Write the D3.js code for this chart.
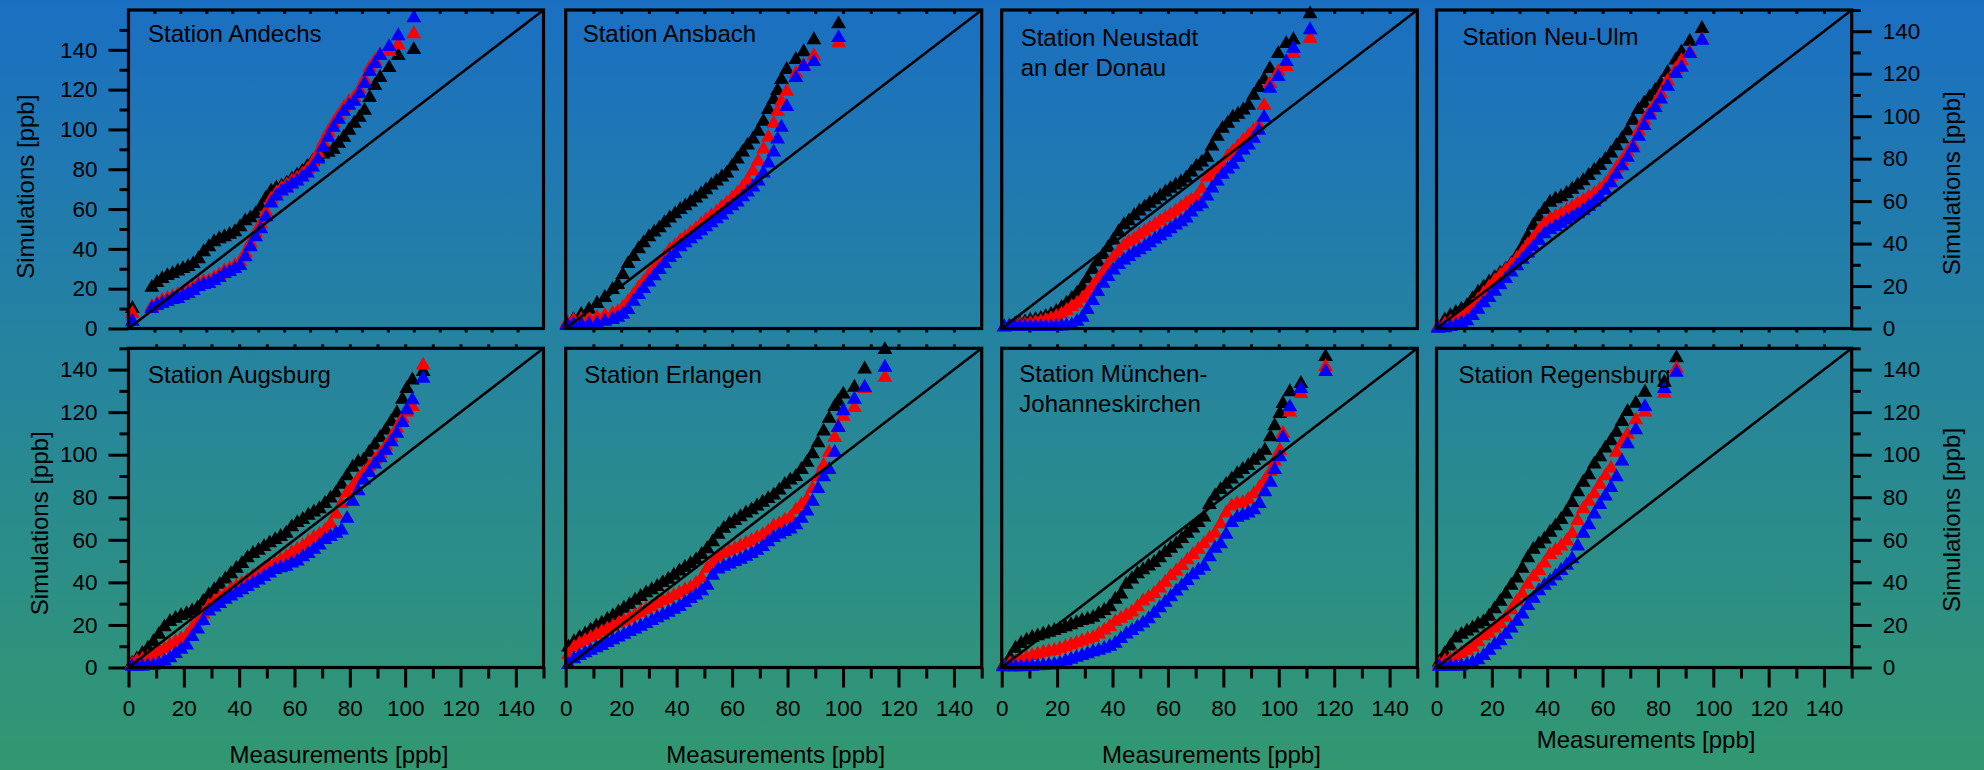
<!DOCTYPE html>
<html><head><meta charset="utf-8">
<script src="https://cdn.jsdelivr.net/npm/d3@7"></script>
<style>
html,body{margin:0;padding:0;background:#2585a0;}
svg{display:block;}
text{font-family:"Liberation Sans",Arial,Helvetica,sans-serif;fill:#000;}
</style></head><body>
<svg id="chart" width="1984" height="770"></svg>
<script>
// ---------------- DATA (quantile pairs) ----------------
const stationNames = [
  ["Station Andechs"], ["Station Ansbach"], ["Station Neustadt", "an der Donau"], ["Station Neu-Ulm"],
  ["Station Augsburg"], ["Station Erlangen"], ["Station München-", "Johanneskirchen"], ["Station Regensburg"]
];
const seriesNames = ["Simulation A", "Simulation B", "Simulation C"];
const axisMax = [160, 150, 150, 150, 150, 150, 150, 150];
const yTickLabels = [0, 20, 40, 60, 80, 100, 120, 140];
const xTickLabels = [0, 20, 40, 60, 80, 100, 120, 140];
const xTitle = "Measurements [ppb]";
const yTitle = "Simulations [ppb]";

// Andechs
const andechsMeas = [1.5, 9, 11, 13, 15, 17, 19, 21, 23, 25, 27, 29, 31, 33, 35, 37, 39, 41, 43, 45, 47, 49, 51, 53, 55, 57, 59, 61, 63, 65, 67, 69, 71, 73, 75, 77, 79, 81, 83, 85, 87, 89, 91, 93, 95, 97, 100.5, 104, 110];
const andechsBlack = [10, 20.6, 23, 25, 26.5, 27.5, 28.8, 30, 31, 32.5, 35, 38.5, 41, 43.5, 45, 46, 47.2, 48.5, 51, 54, 55.5, 57.5, 61, 65.5, 69, 70.5, 71.5, 73, 75, 77, 79, 81.5, 84, 86, 87.5, 88.5, 90, 93, 96, 99.5, 103, 106, 109.5, 116, 122, 126, 131, 137, 140];
const andechsRed = [7.5, 11, 12.5, 14, 15, 16, 17, 18, 19, 20.5, 22.5, 23.5, 24, 25.5, 27, 29, 30, 31.5, 33.5, 38, 43, 48, 52.5, 58.5, 65, 68, 70.5, 72, 74, 75.5, 77.5, 80, 83.5, 88, 93.5, 98.5, 103, 107, 111, 114, 116, 120, 125, 131, 134.5, 137.5, 139, 142.5, 148];
const andechsBlue = [3.5, 10, 11.5, 12.5, 13.5, 14.5, 15, 16.5, 17.5, 19, 21, 22, 22.5, 24, 25.5, 27.5, 28.5, 30, 31.5, 36, 41, 46, 50, 56, 63, 66.5, 69, 70.5, 72.5, 74, 76, 78, 81, 85, 91, 96, 101, 105, 109, 112, 114, 118, 123, 129, 133, 137, 141.5, 147, 156];

// Ansbach
const ansbachMeas = [0.5, 2.8, 5.6, 8.4, 11.3, 14.1, 16.9, 18.8, 20.6, 22.5, 24.4, 26.3, 28.1, 30, 31.9, 33.8, 35.6, 37.5, 39.4, 41.3, 43.1, 45, 46.9, 48.8, 50.6, 52.5, 54.4, 56.3, 58.1, 60, 61.9, 63.8, 65.6, 67.5, 69.4, 71.3, 73.1, 75, 76.4, 77.8, 79.7, 83, 85.8, 89.5, 98.4];
const ansbachBlack = [1.4, 4.2, 6.6, 8.9, 11.7, 14.5, 18.3, 20.6, 25.3, 30.5, 33.8, 37.5, 40.3, 43.1, 45.3, 47.3, 49.7, 52, 53.9, 56, 57.7, 59.5, 61.4, 63.3, 65.2, 67.5, 69.4, 71.3, 73.1, 76.4, 79.7, 83, 86.3, 89.1, 92.8, 97.5, 103.1, 107.8, 112, 117.2, 121.9, 126.6, 130.3, 135.9, 143.4];
const ansbachRed = [2.8, 3.8, 4.2, 4.7, 5.2, 6.1, 7, 8, 9.8, 12.7, 15.9, 19.2, 22, 25.3, 28.1, 30.9, 33.8, 37, 38.9, 41.3, 43.1, 45, 46.9, 49.2, 51.1, 53, 54.8, 57.2, 59.1, 61.4, 63.8, 66.6, 69.8, 74.1, 78.8, 84.4, 90, 96.6, 102.2, 106.9, 111.6, 120, 123.8, 128.4, 134.5];
const ansbachBlue = [1.9, 1.9, 1.9, 1.9, 2.3, 3.3, 4.2, 5.2, 6.6, 8.9, 12.7, 15.9, 18.8, 21.8, 24.8, 27.7, 30.5, 33.3, 35.2, 38.4, 40.3, 42.2, 44.1, 45.9, 47.8, 49.7, 51.6, 53.4, 55.8, 57.7, 59.5, 61.9, 64.2, 66.6, 69.4, 73.1, 77.8, 83, 89.1, 94.7, 104.5, 118.1, 123.3, 125.6, 136.9];

// Neustadt an der Donau
const neustadtMeas = [0.9, 2.8, 4.7, 6.6, 8.4, 10.3, 12.2, 14.1, 15.9, 17.8, 19.7, 21.6, 23.4, 25.3, 27.2, 29.1, 30.9, 32.8, 34.7, 36.6, 38.4, 40.3, 42.2, 44.1, 45.9, 47.8, 49.7, 51.6, 53.4, 55.3, 57.2, 59.1, 60.9, 62.8, 64.7, 66.6, 68.4, 70.3, 72.2, 74.1, 75.9, 77.8, 79.7, 81.6, 83.4, 85.3, 87.2, 89.1, 90.9, 92.8, 94.7, 96.8, 99.8, 102.7, 105.3, 111.3];
const neustadtBlack = [0.5, 1.1, 1.7, 2.3, 3, 3.8, 4.2, 4.7, 5.6, 6.6, 8, 9.8, 11.8, 14.1, 16.6, 19.7, 23.4, 27.7, 31.4, 34.7, 38, 41.6, 45.5, 48.8, 50.6, 53, 55.3, 57.2, 58.9, 60.5, 62.3, 64.2, 65.9, 67.5, 68.9, 70.8, 73.6, 76.4, 78.3, 80.6, 85.8, 90.5, 94.2, 96.6, 99.4, 100.8, 102.8, 105, 109.7, 113.4, 117.2, 122.3, 129.4, 134.1, 135.9, 148.1];
const neustadtRed = [0.5, 0.9, 1.4, 1.7, 1.9, 2.3, 2.8, 3.3, 3.8, 4.7, 5.6, 6.8, 8.4, 10.3, 11.8, 14.1, 16.5, 19.7, 23, 26.3, 30, 33.3, 36.1, 38.9, 40.8, 42.2, 44.1, 45.7, 47.3, 48.9, 50.6, 52.2, 53.7, 55.3, 57.2, 58.9, 60.5, 61.9, 65.6, 71.3, 73.1, 75, 76.9, 81.1, 83.4, 85.8, 88.6, 90.9, 93.3, 95.6, 105, 115.3, 120.9, 123.3, 129.4, 136.6];
const neustadtBlue = [0.8, 0.8, 0.8, 0.8, 0.8, 0.8, 0.8, 0.8, 0.8, 0.8, 0.9, 1.1, 1.3, 1.6, 3.3, 5.2, 8.9, 13.1, 17.3, 21.2, 24.4, 27.5, 30, 32.2, 33.8, 35.6, 37, 38.7, 40.3, 42, 43.6, 45.2, 46.9, 48.6, 50.2, 52, 54.8, 57.2, 58.6, 62.3, 66.1, 69.4, 72.5, 75, 77.3, 80.6, 84, 86.3, 89.5, 93.3, 99.4, 113.1, 118.6, 125.6, 131.9, 140.6];

// Neu-Ulm
const neuulmMeas = [0.6, 3, 5, 7, 9, 11, 13, 15, 17, 19, 21, 23, 25, 27, 29, 31, 33, 35, 37, 39, 41, 43, 45, 47, 49, 51, 53, 55, 57, 59, 61, 63, 65, 67, 69, 71, 73, 75, 77, 79, 81, 83.5, 86.4, 88.5, 91.5, 95.9];
const neuulmBlack = [0.5, 4, 6, 7.5, 9, 10.7, 14, 17, 19.5, 21.8, 24, 26, 28, 30.5, 34, 38.5, 43.5, 48.5, 52.5, 56, 59.4, 61, 62, 63.5, 65.5, 67.5, 69.5, 72, 74.5, 76.7, 79.5, 82.5, 86, 89.3, 93, 98, 103, 106, 109, 112, 115.3, 120.5, 126.3, 130.2, 135.2, 141.2];
const neuulmRed = [0.5, 2, 3, 4.2, 6, 7.5, 10.5, 13.5, 16.5, 19.5, 22.5, 25, 27.5, 30, 33, 36, 39.5, 42.5, 46, 49.3, 51.3, 52.7, 54, 55.5, 57.2, 58.8, 60.3, 62, 63.5, 65.5, 68, 71.5, 75.5, 79, 83, 86.5, 93, 98, 102, 106, 110.5, 116.5, 122, 126, 130, 136];
const neuulmBlue = [0, 0.3, 0.8, 1.5, 2.5, 3.5, 6, 9, 12, 14.5, 17.5, 20.5, 23.5, 26.5, 29.5, 32.5, 35.5, 38.5, 41.5, 44.5, 46.5, 48, 49.5, 51, 52.5, 54, 55.5, 57.5, 59.5, 62, 65, 68.5, 72.5, 76.5, 80.5, 85, 90.5, 95.5, 100.5, 104, 108, 114, 120, 123, 129.4, 135.7];

// Augsburg
const augsburgMeas = [1.3, 3, 5, 7, 9, 11, 13, 15, 17, 19, 21, 23, 25, 27, 29, 31, 33, 35, 37, 39, 41, 43, 45, 47, 49, 51, 53, 55, 57, 59, 61, 63, 65, 67, 69, 71, 73, 75, 77, 79, 81, 83, 85, 87, 89, 91, 93, 95, 97, 99, 100.6, 102.6, 106.5];
const augsburgBlack = [2, 4, 6.5, 9, 12, 15.5, 19, 21.5, 23, 24.3, 25.2, 26.5, 28, 31, 34, 36.5, 39, 41.5, 44, 46.5, 48.8, 51.5, 53.5, 55, 56.8, 58.5, 60, 61.5, 63, 66, 68, 69.5, 71.5, 73, 74.5, 77, 79.5, 82, 86, 90, 94, 96.5, 97.5, 101, 104.5, 108, 111.5, 115.5, 119.5, 126, 131, 135, 139];
const augsburgRed = [1.5, 3, 3.8, 4.6, 5.8, 7.2, 8.8, 10.5, 12, 13.5, 15, 18.5, 21.5, 25, 29, 31, 32.8, 34.5, 36.5, 38, 39.5, 41, 43, 44.5, 46, 47.5, 49, 50.5, 52, 54, 55.5, 57, 59, 61, 62.5, 64.5, 67.5, 72, 77, 82, 85, 88.5, 91.5, 94.5, 97.5, 100.5, 104, 108, 112.5, 117, 120, 122.5, 142];
const augsburgBlue = [0.5, 0.5, 0.5, 0.8, 1, 1.8, 3, 4.5, 6.5, 8.5, 10.5, 14.5, 18, 22, 26.5, 28.3, 30, 32, 33.5, 35, 36.5, 38, 39.5, 41, 42.7, 44.3, 46, 46.8, 47.5, 49, 50, 52, 53.5, 55.5, 57.5, 60, 61.5, 63, 64.5, 70, 78, 83, 88, 91.5, 95.5, 98.5, 102, 106, 110, 115, 121, 125.7, 135.8];

// Erlangen
const erlangenMeas = [1, 3, 5, 7, 9, 11, 13, 15, 17, 19, 21, 23, 25, 27, 29, 31, 33, 35, 37, 39, 41, 43, 45, 47, 49, 51, 53, 55, 57, 59, 61, 63, 65, 67, 69, 71, 73, 75, 77, 79, 81, 83, 85, 87, 89, 91, 93, 95, 97, 98.3, 100.1, 104.1, 107.8, 115.1];
const erlangenBlack = [9.5, 12, 14, 15.7, 17.5, 19.3, 20.8, 22.5, 24.2, 26, 27.8, 29.5, 31.5, 33.3, 35, 36.5, 38, 39.8, 41.4, 43.3, 45.3, 47, 48.7, 50.5, 53, 55.7, 59, 62.5, 65.3, 67.5, 69, 70.8, 72.5, 74, 75.8, 77.6, 79.3, 81, 83.3, 86, 88, 89.7, 93, 96.3, 100.3, 105.5, 111, 117, 122.5, 125, 128.4, 131.6, 140.2, 149.3];
const erlangenRed = [6, 9.5, 11.2, 12.6, 14, 15.3, 16.8, 18, 19.3, 20.6, 21.8, 23, 24.5, 25.8, 27.2, 28.5, 30, 31.3, 32.3, 33.7, 35, 36.5, 37.5, 39.5, 42, 46.5, 49.3, 52, 53.5, 54.6, 55.8, 57, 58.4, 59.6, 61, 62.3, 64, 66.4, 67.5, 69.2, 70.5, 74, 76.5, 79, 84, 89.5, 95, 101, 108, 113, 118, 122.1, 131, 136.3];
const erlangenBlue = [1.3, 4, 5.5, 6.8, 8, 9.2, 10.3, 11.6, 12.9, 14.2, 15.5, 16.8, 18, 19.3, 20.6, 22, 23.3, 24.6, 25.9, 27.3, 28.6, 30.5, 32.3, 34, 36, 38.5, 43.3, 46.2, 47.5, 48.6, 49.7, 50.8, 52.2, 53.5, 55, 56.8, 59, 61, 62.6, 63.8, 65, 67, 70, 73.5, 78, 84, 89.5, 93, 101, 112.7, 120.6, 126, 131.6, 141];

// München-Johanneskirchen
const muenchenMeas = [0.6, 3, 5, 7, 9, 11, 13, 15, 17, 19, 21, 23, 25, 27, 29, 31, 33, 35, 37, 39, 41, 43, 45, 47, 49, 51, 53, 55, 57, 59, 61, 63, 65, 67, 69, 71, 73, 75, 77, 79, 81, 83, 85, 87, 89, 91, 93, 95, 97, 98.5, 100.4, 101.5, 104, 108, 116.9];
const muenchenBlack = [0.8, 4.7, 9, 11.2, 12.8, 14, 14.8, 15.7, 16.5, 17.3, 18.2, 19, 20, 21, 22, 22.6, 23.5, 25.2, 26.7, 28.5, 32, 34.5, 39, 41.5, 44, 45.8, 47.6, 49.3, 51.5, 54, 56, 58, 60.5, 63, 65.5, 68, 70.6, 76.5, 80.5, 83.5, 86, 88.5, 91, 93, 94.8, 97.3, 99.3, 102, 108.3, 113.5, 119.3, 124, 129.5, 133.4, 146];
const muenchenRed = [0.8, 1.8, 2.8, 3.6, 4.6, 5.5, 6.3, 7.1, 7.5, 7.9, 8.8, 9.7, 10.6, 11.5, 12.4, 13.3, 14.1, 15.7, 17.5, 19.2, 21.5, 23, 24.5, 26, 28.5, 31.2, 33, 34.7, 37.3, 40, 43, 45.3, 47.8, 50.5, 53, 55.5, 58, 60.8, 63, 67.5, 72.5, 75.8, 77, 77.5, 79, 81.6, 84.5, 88, 92, 97, 102, 110, 120, 128.7, 141.3];
const muenchenBlue = [0.3, 0.3, 0.3, 0.3, 0.4, 0.5, 0.7, 0.9, 1.1, 1.4, 2, 3, 3.8, 4.7, 5.5, 6.4, 7.3, 8, 8.9, 9.9, 11.3, 13.5, 15.7, 17.3, 19, 20.8, 22.8, 25.4, 28, 30.6, 33.2, 35.8, 38.3, 40.8, 43.5, 45.6, 47.5, 52, 56, 58, 62.5, 68, 70.5, 71.5, 72.5, 74, 77, 82.5, 87, 93, 99, 108, 122.4, 131, 139];

// Regensburg
const regensburgMeas = [1, 3, 5, 7, 9, 11, 13, 15, 17, 19, 21, 23, 25, 27, 29, 31, 33, 35, 37, 39, 41, 43, 45, 47, 49, 51, 53, 55, 57, 59, 61, 63, 65, 67, 69, 72, 75.3, 82.3, 86.7];
const regensburgBlack = [2.5, 6.5, 10, 13.8, 15.5, 17, 18.5, 20.3, 21.5, 24, 27.5, 31, 34.5, 38.5, 42, 46.5, 51.5, 55.5, 58, 60.3, 63.5, 66.5, 69.5, 73, 77.5, 82.5, 87, 90.5, 95.5, 99, 103, 106.5, 110.5, 115.5, 120.2, 124.1, 129.3, 134, 145.5];
const regensburgRed = [1.5, 3, 4, 5.2, 6.5, 8, 9.5, 12, 14.8, 16, 18.5, 20.5, 23.5, 27, 31, 34.5, 39, 42.5, 45.5, 49, 53, 55, 57, 59.5, 63, 69, 74.5, 78, 81.5, 86, 90, 93.6, 101, 105.5, 109.5, 116.3, 120, 128.8, 140.5];
const regensburgBlue = [0.5, 0.5, 0.5, 0.5, 0.7, 1.3, 2.2, 3.5, 5.5, 8, 10.6, 12.5, 15.5, 18.5, 21.6, 25, 29, 32.5, 36, 38.5, 40.5, 43, 45.5, 48, 51, 57, 63, 67, 72, 76.5, 80.5, 84.5, 89.5, 97, 105, 111.6, 122.5, 131, 138.6];

const measByStation = [andechsMeas, ansbachMeas, neustadtMeas, neuulmMeas, augsburgMeas, erlangenMeas, muenchenMeas, regensburgMeas];
const simsByStation = [
  [andechsBlack, andechsRed, andechsBlue],
  [ansbachBlack, ansbachRed, ansbachBlue],
  [neustadtBlack, neustadtRed, neustadtBlue],
  [neuulmBlack, neuulmRed, neuulmBlue],
  [augsburgBlack, augsburgRed, augsburgBlue],
  [erlangenBlack, erlangenRed, erlangenBlue],
  [muenchenBlack, muenchenRed, muenchenBlue],
  [regensburgBlack, regensburgRed, regensburgBlue]
];

// ---------------- LAYOUT / STYLE ----------------
const W = 1984, H = 770;
const colX = [[128.5, 543.5], [565.7, 981.7], [1001.7, 1417.3], [1436.5, 1851.7]];
const rowY = [[10, 328.5], [348.3, 667.5]];
const seriesColors = ["#000000", "#ff0000", "#0000ff"];
const labelPos = [[19.6, 31.7], [17, 31.7], [19, 36], [26, 35], [19.6, 35], [18.6, 35], [17.6, 33.4], [22, 35]];
const FONT_TICK = 22.5, FONT_TITLE = 24, FONT_LABEL = 24;

const svg = d3.select("#chart");
const defs = svg.append("defs");
const grad = defs.append("linearGradient").attr("id", "bg").attr("x1", 0).attr("y1", 0).attr("x2", 0).attr("y2", 1);
grad.append("stop").attr("offset", "0%").attr("stop-color", "#1a6fc2");
grad.append("stop").attr("offset", "45%").attr("stop-color", "#2583a0");
grad.append("stop").attr("offset", "100%").attr("stop-color", "#329870");
svg.append("rect").attr("width", W).attr("height", H).attr("fill", "url(#bg)");

const tri = d3.symbol().type(d3.symbolTriangle).size(96);

function styleAxis(g, fs) {
  g.select(".domain").remove();
  g.selectAll(".tick line").attr("stroke", "#000").attr("stroke-width", 3);
  g.selectAll(".tick text").attr("font-size", fs).attr("fill", "#000")
    .style("font-family", '"Liberation Sans", Arial, sans-serif');
}

stationNames.forEach((lines, i) => {
  const row = Math.floor(i / 4), col = i % 4;
  const [x0, x1] = colX[col];
  const [y0, y1] = rowY[row];
  const max = axisMax[i];
  const x = d3.scaleLinear().domain([0, max]).range([x0, x1]);
  const y = d3.scaleLinear().domain([0, max]).range([y1, y0]);
  const g = svg.append("g");
  const allTens = d3.range(10, max, 10);

  // small ticks on the unlabelled edges
  if (row === 0) {
    const tIn = g.append("g").attr("transform", `translate(0,${y0})`)
      .call(d3.axisBottom(x).tickValues(allTens).tickSize(4).tickFormat(""));
    styleAxis(tIn, FONT_TICK);
    const bt = g.append("g").attr("transform", `translate(0,${y1})`)
      .call(d3.axisBottom(x).tickValues(allTens).tickSize(4).tickFormat(""));
    styleAxis(bt, FONT_TICK);
  } else {
    const tt = g.append("g").attr("transform", `translate(0,${y0})`)
      .call(d3.axisTop(x).tickValues(allTens).tickSize(4).tickFormat(""));
    styleAxis(tt, FONT_TICK);
    const bMaj = g.append("g").attr("transform", `translate(0,${y1})`)
      .call(d3.axisBottom(x).tickValues(xTickLabels).tickSize(20).tickPadding(13).tickFormat(d3.format("d")));
    styleAxis(bMaj, FONT_TICK);
    const bMin = g.append("g").attr("transform", `translate(0,${y1})`)
      .call(d3.axisBottom(x).tickValues(d3.range(10, 151, 20)).tickSize(11).tickFormat(""));
    styleAxis(bMin, FONT_TICK);
  }
  const minorY = d3.range(10, 151, 20);
  if (col === 0) {
    const lMaj = g.append("g").attr("transform", `translate(${x0},0)`)
      .call(d3.axisLeft(y).tickValues(yTickLabels).tickSize(20).tickPadding(11).tickFormat(d3.format("d")));
    styleAxis(lMaj, FONT_TICK);
    const lMin = g.append("g").attr("transform", `translate(${x0},0)`)
      .call(d3.axisLeft(y).tickValues(minorY).tickSize(9).tickFormat(""));
    styleAxis(lMin, FONT_TICK);
  }
  if (col === 3) {
    const rMaj = g.append("g").attr("transform", `translate(${x1},0)`)
      .call(d3.axisRight(y).tickValues(yTickLabels).tickSize(20).tickPadding(11).tickFormat(d3.format("d")));
    styleAxis(rMaj, FONT_TICK);
    const rMin = g.append("g").attr("transform", `translate(${x1},0)`)
      .call(d3.axisRight(y).tickValues(minorY).tickSize(9).tickFormat(""));
    styleAxis(rMin, FONT_TICK);
  }

  // markers: black, red, blue (blue on top)
  const meas = measByStation[i];
  simsByStation[i].forEach((sim, s) => {
    g.append("g").attr("class", "series-" + s)
      .selectAll("path")
      .data(meas.map((m, k) => [m, sim[k]]))
      .join("path")
      .attr("d", tri)
      .attr("transform", d => `translate(${x(d[0])},${y(d[1])})`)
      .attr("fill", seriesColors[s]);
  });

  // 1:1 line
  g.append("line")
    .attr("x1", x(0)).attr("y1", y(0)).attr("x2", x(max)).attr("y2", y(max))
    .attr("stroke", "#000").attr("stroke-width", 2.6);

  // frame
  g.append("rect").attr("x", x0).attr("y", y0).attr("width", x1 - x0).attr("height", y1 - y0)
    .attr("fill", "none").attr("stroke", "#000").attr("stroke-width", 3.2);

  // station label
  const [lx, ly] = labelPos[i];
  const t = g.append("text").attr("x", x0 + lx).attr("y", y0 + ly).attr("font-size", FONT_LABEL);
  lines.forEach((ln, k) => {
    t.append("tspan").attr("x", x0 + lx).attr("dy", k === 0 ? 0 : 30).text(ln);
  });

  // axis titles
  if (row === 1) {
    svg.append("text").attr("x", (x0 + x1) / 2 + (col === 0 ? 3 : 2)).attr("y", col === 3 ? 748.3 : 762.7)
      .attr("text-anchor", "middle").attr("font-size", FONT_TITLE).text(xTitle);
  }
  if (col === 0) {
    const cx = row === 0 ? 25.7 : 40, cy = row === 0 ? 186.7 : 523.3;
    svg.append("text").attr("transform", `translate(${cx},${cy}) rotate(-90)`)
      .attr("text-anchor", "middle").attr("dy", "0.35em").attr("font-size", FONT_TITLE).text(yTitle);
  }
  if (col === 3) {
    const cx = 1952, cy = row === 0 ? 183.3 : 520;
    svg.append("text").attr("transform", `translate(${cx},${cy}) rotate(-90)`)
      .attr("text-anchor", "middle").attr("dy", "0.35em").attr("font-size", FONT_TITLE).text(yTitle);
  }
});
</script></body></html>
